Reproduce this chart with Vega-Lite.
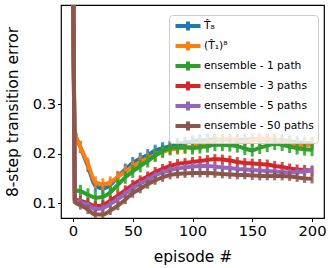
{
  "$schema": "https://vega.github.io/schema/vega-lite/v6.json",
  "width": 263,
  "height": 213,
  "autosize": {"type": "none"},
  "padding": {"left": 61, "top": 5, "right": 8, "bottom": 50},
  "background": "white",
  "config": {
    "font": "DejaVu Sans",
    "view": {"stroke": "#000000", "strokeWidth": 1.2},
    "axis": {
      "grid": false,
      "domain": false,
      "tickColor": "#000000",
      "tickSize": 3.5,
      "tickWidth": 1,
      "labelColor": "#000000",
      "labelFontSize": 14.7,
      "labelPadding": 2,
      "titleColor": "#000000",
      "titleFontSize": 15.5,
      "titleFontWeight": "normal"
    }
  },
  "datasets": {
    "d": [
      {"ep": 0, "s": "T\u0302\u2088", "v": 0.6, "e": 0},
      {"ep": 1.5, "s": "T\u0302\u2088", "v": 0.245, "e": 0},
      {"ep": 6.25, "s": "T\u0302\u2088", "v": 0.213, "e": 0.012},
      {"ep": 12.5, "s": "T\u0302\u2088", "v": 0.175, "e": 0.012},
      {"ep": 18.75, "s": "T\u0302\u2088", "v": 0.135, "e": 0.012},
      {"ep": 25, "s": "T\u0302\u2088", "v": 0.13, "e": 0.012},
      {"ep": 31.25, "s": "T\u0302\u2088", "v": 0.137, "e": 0.012},
      {"ep": 37.5, "s": "T\u0302\u2088", "v": 0.153, "e": 0.012},
      {"ep": 43.75, "s": "T\u0302\u2088", "v": 0.168, "e": 0.012},
      {"ep": 50, "s": "T\u0302\u2088", "v": 0.181, "e": 0.012},
      {"ep": 56.25, "s": "T\u0302\u2088", "v": 0.19, "e": 0.012},
      {"ep": 62.5, "s": "T\u0302\u2088", "v": 0.197, "e": 0.012},
      {"ep": 68.75, "s": "T\u0302\u2088", "v": 0.206, "e": 0.012},
      {"ep": 75, "s": "T\u0302\u2088", "v": 0.211, "e": 0.012},
      {"ep": 81.25, "s": "T\u0302\u2088", "v": 0.215, "e": 0.012},
      {"ep": 87.5, "s": "T\u0302\u2088", "v": 0.219, "e": 0.012},
      {"ep": 93.75, "s": "T\u0302\u2088", "v": 0.222, "e": 0.012},
      {"ep": 100, "s": "T\u0302\u2088", "v": 0.225, "e": 0.012},
      {"ep": 106.25, "s": "T\u0302\u2088", "v": 0.227, "e": 0.012},
      {"ep": 112.5, "s": "T\u0302\u2088", "v": 0.228, "e": 0.012},
      {"ep": 118.75, "s": "T\u0302\u2088", "v": 0.229, "e": 0.012},
      {"ep": 125, "s": "T\u0302\u2088", "v": 0.228, "e": 0.012},
      {"ep": 131.25, "s": "T\u0302\u2088", "v": 0.228, "e": 0.012},
      {"ep": 137.5, "s": "T\u0302\u2088", "v": 0.228, "e": 0.012},
      {"ep": 143.75, "s": "T\u0302\u2088", "v": 0.228, "e": 0.012},
      {"ep": 150, "s": "T\u0302\u2088", "v": 0.229, "e": 0.012},
      {"ep": 156.25, "s": "T\u0302\u2088", "v": 0.228, "e": 0.012},
      {"ep": 162.5, "s": "T\u0302\u2088", "v": 0.228, "e": 0.012},
      {"ep": 168.75, "s": "T\u0302\u2088", "v": 0.228, "e": 0.012},
      {"ep": 175, "s": "T\u0302\u2088", "v": 0.227, "e": 0.012},
      {"ep": 181.25, "s": "T\u0302\u2088", "v": 0.225, "e": 0.012},
      {"ep": 187.5, "s": "T\u0302\u2088", "v": 0.223, "e": 0.012},
      {"ep": 193.75, "s": "T\u0302\u2088", "v": 0.222, "e": 0.012},
      {"ep": 200, "s": "T\u0302\u2088", "v": 0.221, "e": 0.012},

      {"ep": 0, "s": "(T\u0302\u2081)\u2078", "v": 0.6, "e": 0},
      {"ep": 1.5, "s": "(T\u0302\u2081)\u2078", "v": 0.245, "e": 0},
      {"ep": 6.25, "s": "(T\u0302\u2081)\u2078", "v": 0.214, "e": 0.012},
      {"ep": 12.5, "s": "(T\u0302\u2081)\u2078", "v": 0.18, "e": 0.012},
      {"ep": 18.75, "s": "(T\u0302\u2081)\u2078", "v": 0.142, "e": 0.012},
      {"ep": 25, "s": "(T\u0302\u2081)\u2078", "v": 0.138, "e": 0.012},
      {"ep": 31.25, "s": "(T\u0302\u2081)\u2078", "v": 0.142, "e": 0.012},
      {"ep": 37.5, "s": "(T\u0302\u2081)\u2078", "v": 0.153, "e": 0.012},
      {"ep": 43.75, "s": "(T\u0302\u2081)\u2078", "v": 0.163, "e": 0.012},
      {"ep": 50, "s": "(T\u0302\u2081)\u2078", "v": 0.174, "e": 0.012},
      {"ep": 56.25, "s": "(T\u0302\u2081)\u2078", "v": 0.183, "e": 0.012},
      {"ep": 62.5, "s": "(T\u0302\u2081)\u2078", "v": 0.19, "e": 0.012},
      {"ep": 68.75, "s": "(T\u0302\u2081)\u2078", "v": 0.197, "e": 0.012},
      {"ep": 75, "s": "(T\u0302\u2081)\u2078", "v": 0.203, "e": 0.012},
      {"ep": 81.25, "s": "(T\u0302\u2081)\u2078", "v": 0.208, "e": 0.012},
      {"ep": 87.5, "s": "(T\u0302\u2081)\u2078", "v": 0.21, "e": 0.012},
      {"ep": 93.75, "s": "(T\u0302\u2081)\u2078", "v": 0.212, "e": 0.012},
      {"ep": 100, "s": "(T\u0302\u2081)\u2078", "v": 0.214, "e": 0.012},
      {"ep": 106.25, "s": "(T\u0302\u2081)\u2078", "v": 0.218, "e": 0.012},
      {"ep": 112.5, "s": "(T\u0302\u2081)\u2078", "v": 0.222, "e": 0.012},
      {"ep": 118.75, "s": "(T\u0302\u2081)\u2078", "v": 0.226, "e": 0.012},
      {"ep": 125, "s": "(T\u0302\u2081)\u2078", "v": 0.228, "e": 0.012},
      {"ep": 131.25, "s": "(T\u0302\u2081)\u2078", "v": 0.228, "e": 0.012},
      {"ep": 137.5, "s": "(T\u0302\u2081)\u2078", "v": 0.225, "e": 0.012},
      {"ep": 143.75, "s": "(T\u0302\u2081)\u2078", "v": 0.223, "e": 0.012},
      {"ep": 150, "s": "(T\u0302\u2081)\u2078", "v": 0.227, "e": 0.012},
      {"ep": 156.25, "s": "(T\u0302\u2081)\u2078", "v": 0.229, "e": 0.012},
      {"ep": 162.5, "s": "(T\u0302\u2081)\u2078", "v": 0.229, "e": 0.012},
      {"ep": 168.75, "s": "(T\u0302\u2081)\u2078", "v": 0.228, "e": 0.012},
      {"ep": 175, "s": "(T\u0302\u2081)\u2078", "v": 0.225, "e": 0.012},
      {"ep": 181.25, "s": "(T\u0302\u2081)\u2078", "v": 0.221, "e": 0.012},
      {"ep": 187.5, "s": "(T\u0302\u2081)\u2078", "v": 0.218, "e": 0.012},
      {"ep": 193.75, "s": "(T\u0302\u2081)\u2078", "v": 0.217, "e": 0.012},
      {"ep": 200, "s": "(T\u0302\u2081)\u2078", "v": 0.219, "e": 0.012},

      {"ep": 0, "s": "ensemble - 1 path", "v": 0.6, "e": 0},
      {"ep": 1.5, "s": "ensemble - 1 path", "v": 0.127, "e": 0},
      {"ep": 6.25, "s": "ensemble - 1 path", "v": 0.124, "e": 0.013},
      {"ep": 12.5, "s": "ensemble - 1 path", "v": 0.117, "e": 0.013},
      {"ep": 18.75, "s": "ensemble - 1 path", "v": 0.111, "e": 0.013},
      {"ep": 25, "s": "ensemble - 1 path", "v": 0.113, "e": 0.013},
      {"ep": 31.25, "s": "ensemble - 1 path", "v": 0.122, "e": 0.013},
      {"ep": 37.5, "s": "ensemble - 1 path", "v": 0.137, "e": 0.013},
      {"ep": 43.75, "s": "ensemble - 1 path", "v": 0.152, "e": 0.013},
      {"ep": 50, "s": "ensemble - 1 path", "v": 0.164, "e": 0.013},
      {"ep": 56.25, "s": "ensemble - 1 path", "v": 0.175, "e": 0.013},
      {"ep": 62.5, "s": "ensemble - 1 path", "v": 0.185, "e": 0.013},
      {"ep": 68.75, "s": "ensemble - 1 path", "v": 0.196, "e": 0.013},
      {"ep": 75, "s": "ensemble - 1 path", "v": 0.205, "e": 0.013},
      {"ep": 81.25, "s": "ensemble - 1 path", "v": 0.211, "e": 0.013},
      {"ep": 87.5, "s": "ensemble - 1 path", "v": 0.213, "e": 0.013},
      {"ep": 93.75, "s": "ensemble - 1 path", "v": 0.213, "e": 0.013},
      {"ep": 100, "s": "ensemble - 1 path", "v": 0.211, "e": 0.013},
      {"ep": 106.25, "s": "ensemble - 1 path", "v": 0.213, "e": 0.013},
      {"ep": 112.5, "s": "ensemble - 1 path", "v": 0.215, "e": 0.013},
      {"ep": 118.75, "s": "ensemble - 1 path", "v": 0.218, "e": 0.013},
      {"ep": 125, "s": "ensemble - 1 path", "v": 0.218, "e": 0.013},
      {"ep": 131.25, "s": "ensemble - 1 path", "v": 0.217, "e": 0.013},
      {"ep": 137.5, "s": "ensemble - 1 path", "v": 0.215, "e": 0.013},
      {"ep": 143.75, "s": "ensemble - 1 path", "v": 0.21, "e": 0.013},
      {"ep": 150, "s": "ensemble - 1 path", "v": 0.207, "e": 0.013},
      {"ep": 156.25, "s": "ensemble - 1 path", "v": 0.212, "e": 0.013},
      {"ep": 162.5, "s": "ensemble - 1 path", "v": 0.216, "e": 0.013},
      {"ep": 168.75, "s": "ensemble - 1 path", "v": 0.22, "e": 0.013},
      {"ep": 175, "s": "ensemble - 1 path", "v": 0.218, "e": 0.013},
      {"ep": 181.25, "s": "ensemble - 1 path", "v": 0.214, "e": 0.013},
      {"ep": 187.5, "s": "ensemble - 1 path", "v": 0.211, "e": 0.013},
      {"ep": 193.75, "s": "ensemble - 1 path", "v": 0.209, "e": 0.013},
      {"ep": 200, "s": "ensemble - 1 path", "v": 0.208, "e": 0.013},

      {"ep": 0, "s": "ensemble - 3 paths", "v": 0.6, "e": 0},
      {"ep": 1.5, "s": "ensemble - 3 paths", "v": 0.108, "e": 0},
      {"ep": 6.25, "s": "ensemble - 3 paths", "v": 0.105, "e": 0.01},
      {"ep": 12.5, "s": "ensemble - 3 paths", "v": 0.1, "e": 0.01},
      {"ep": 18.75, "s": "ensemble - 3 paths", "v": 0.094, "e": 0.01},
      {"ep": 25, "s": "ensemble - 3 paths", "v": 0.096, "e": 0.01},
      {"ep": 31.25, "s": "ensemble - 3 paths", "v": 0.105, "e": 0.01},
      {"ep": 37.5, "s": "ensemble - 3 paths", "v": 0.115, "e": 0.01},
      {"ep": 43.75, "s": "ensemble - 3 paths", "v": 0.126, "e": 0.01},
      {"ep": 50, "s": "ensemble - 3 paths", "v": 0.137, "e": 0.01},
      {"ep": 56.25, "s": "ensemble - 3 paths", "v": 0.146, "e": 0.01},
      {"ep": 62.5, "s": "ensemble - 3 paths", "v": 0.154, "e": 0.01},
      {"ep": 68.75, "s": "ensemble - 3 paths", "v": 0.163, "e": 0.01},
      {"ep": 75, "s": "ensemble - 3 paths", "v": 0.169, "e": 0.01},
      {"ep": 81.25, "s": "ensemble - 3 paths", "v": 0.175, "e": 0.01},
      {"ep": 87.5, "s": "ensemble - 3 paths", "v": 0.179, "e": 0.01},
      {"ep": 93.75, "s": "ensemble - 3 paths", "v": 0.181, "e": 0.01},
      {"ep": 100, "s": "ensemble - 3 paths", "v": 0.183, "e": 0.01},
      {"ep": 106.25, "s": "ensemble - 3 paths", "v": 0.185, "e": 0.01},
      {"ep": 112.5, "s": "ensemble - 3 paths", "v": 0.187, "e": 0.01},
      {"ep": 118.75, "s": "ensemble - 3 paths", "v": 0.189, "e": 0.01},
      {"ep": 125, "s": "ensemble - 3 paths", "v": 0.188, "e": 0.01},
      {"ep": 131.25, "s": "ensemble - 3 paths", "v": 0.186, "e": 0.01},
      {"ep": 137.5, "s": "ensemble - 3 paths", "v": 0.183, "e": 0.01},
      {"ep": 143.75, "s": "ensemble - 3 paths", "v": 0.181, "e": 0.01},
      {"ep": 150, "s": "ensemble - 3 paths", "v": 0.18, "e": 0.01},
      {"ep": 156.25, "s": "ensemble - 3 paths", "v": 0.179, "e": 0.01},
      {"ep": 162.5, "s": "ensemble - 3 paths", "v": 0.178, "e": 0.01},
      {"ep": 168.75, "s": "ensemble - 3 paths", "v": 0.175, "e": 0.01},
      {"ep": 175, "s": "ensemble - 3 paths", "v": 0.173, "e": 0.01},
      {"ep": 181.25, "s": "ensemble - 3 paths", "v": 0.17, "e": 0.01},
      {"ep": 187.5, "s": "ensemble - 3 paths", "v": 0.168, "e": 0.01},
      {"ep": 193.75, "s": "ensemble - 3 paths", "v": 0.167, "e": 0.01},
      {"ep": 200, "s": "ensemble - 3 paths", "v": 0.166, "e": 0.01},

      {"ep": 0, "s": "ensemble - 5 paths", "v": 0.6, "e": 0},
      {"ep": 1.5, "s": "ensemble - 5 paths", "v": 0.106, "e": 0},
      {"ep": 6.25, "s": "ensemble - 5 paths", "v": 0.102, "e": 0.007},
      {"ep": 12.5, "s": "ensemble - 5 paths", "v": 0.096, "e": 0.007},
      {"ep": 18.75, "s": "ensemble - 5 paths", "v": 0.088, "e": 0.007},
      {"ep": 25, "s": "ensemble - 5 paths", "v": 0.09, "e": 0.007},
      {"ep": 31.25, "s": "ensemble - 5 paths", "v": 0.098, "e": 0.007},
      {"ep": 37.5, "s": "ensemble - 5 paths", "v": 0.108, "e": 0.007},
      {"ep": 43.75, "s": "ensemble - 5 paths", "v": 0.119, "e": 0.007},
      {"ep": 50, "s": "ensemble - 5 paths", "v": 0.13, "e": 0.007},
      {"ep": 56.25, "s": "ensemble - 5 paths", "v": 0.139, "e": 0.007},
      {"ep": 62.5, "s": "ensemble - 5 paths", "v": 0.147, "e": 0.007},
      {"ep": 68.75, "s": "ensemble - 5 paths", "v": 0.156, "e": 0.007},
      {"ep": 75, "s": "ensemble - 5 paths", "v": 0.162, "e": 0.007},
      {"ep": 81.25, "s": "ensemble - 5 paths", "v": 0.167, "e": 0.007},
      {"ep": 87.5, "s": "ensemble - 5 paths", "v": 0.17, "e": 0.007},
      {"ep": 93.75, "s": "ensemble - 5 paths", "v": 0.172, "e": 0.007},
      {"ep": 100, "s": "ensemble - 5 paths", "v": 0.174, "e": 0.007},
      {"ep": 106.25, "s": "ensemble - 5 paths", "v": 0.175, "e": 0.007},
      {"ep": 112.5, "s": "ensemble - 5 paths", "v": 0.175, "e": 0.007},
      {"ep": 118.75, "s": "ensemble - 5 paths", "v": 0.174, "e": 0.007},
      {"ep": 125, "s": "ensemble - 5 paths", "v": 0.172, "e": 0.007},
      {"ep": 131.25, "s": "ensemble - 5 paths", "v": 0.171, "e": 0.007},
      {"ep": 137.5, "s": "ensemble - 5 paths", "v": 0.169, "e": 0.007},
      {"ep": 143.75, "s": "ensemble - 5 paths", "v": 0.168, "e": 0.007},
      {"ep": 150, "s": "ensemble - 5 paths", "v": 0.167, "e": 0.007},
      {"ep": 156.25, "s": "ensemble - 5 paths", "v": 0.166, "e": 0.007},
      {"ep": 162.5, "s": "ensemble - 5 paths", "v": 0.165, "e": 0.007},
      {"ep": 168.75, "s": "ensemble - 5 paths", "v": 0.164, "e": 0.007},
      {"ep": 175, "s": "ensemble - 5 paths", "v": 0.163, "e": 0.007},
      {"ep": 181.25, "s": "ensemble - 5 paths", "v": 0.162, "e": 0.007},
      {"ep": 187.5, "s": "ensemble - 5 paths", "v": 0.163, "e": 0.007},
      {"ep": 193.75, "s": "ensemble - 5 paths", "v": 0.164, "e": 0.007},
      {"ep": 200, "s": "ensemble - 5 paths", "v": 0.166, "e": 0.007},

      {"ep": 0, "s": "ensemble - 50 paths", "v": 0.6, "e": 0},
      {"ep": 1.5, "s": "ensemble - 50 paths", "v": 0.102, "e": 0},
      {"ep": 6.25, "s": "ensemble - 50 paths", "v": 0.096, "e": 0.009},
      {"ep": 12.5, "s": "ensemble - 50 paths", "v": 0.087, "e": 0.009},
      {"ep": 18.75, "s": "ensemble - 50 paths", "v": 0.077, "e": 0.009},
      {"ep": 25, "s": "ensemble - 50 paths", "v": 0.077, "e": 0.009},
      {"ep": 31.25, "s": "ensemble - 50 paths", "v": 0.085, "e": 0.009},
      {"ep": 37.5, "s": "ensemble - 50 paths", "v": 0.095, "e": 0.009},
      {"ep": 43.75, "s": "ensemble - 50 paths", "v": 0.107, "e": 0.009},
      {"ep": 50, "s": "ensemble - 50 paths", "v": 0.12, "e": 0.009},
      {"ep": 56.25, "s": "ensemble - 50 paths", "v": 0.129, "e": 0.009},
      {"ep": 62.5, "s": "ensemble - 50 paths", "v": 0.138, "e": 0.009},
      {"ep": 68.75, "s": "ensemble - 50 paths", "v": 0.146, "e": 0.009},
      {"ep": 75, "s": "ensemble - 50 paths", "v": 0.152, "e": 0.009},
      {"ep": 81.25, "s": "ensemble - 50 paths", "v": 0.157, "e": 0.009},
      {"ep": 87.5, "s": "ensemble - 50 paths", "v": 0.159, "e": 0.009},
      {"ep": 93.75, "s": "ensemble - 50 paths", "v": 0.16, "e": 0.009},
      {"ep": 100, "s": "ensemble - 50 paths", "v": 0.161, "e": 0.009},
      {"ep": 106.25, "s": "ensemble - 50 paths", "v": 0.161, "e": 0.009},
      {"ep": 112.5, "s": "ensemble - 50 paths", "v": 0.161, "e": 0.009},
      {"ep": 118.75, "s": "ensemble - 50 paths", "v": 0.16, "e": 0.009},
      {"ep": 125, "s": "ensemble - 50 paths", "v": 0.159, "e": 0.009},
      {"ep": 131.25, "s": "ensemble - 50 paths", "v": 0.158, "e": 0.009},
      {"ep": 137.5, "s": "ensemble - 50 paths", "v": 0.157, "e": 0.009},
      {"ep": 143.75, "s": "ensemble - 50 paths", "v": 0.157, "e": 0.009},
      {"ep": 150, "s": "ensemble - 50 paths", "v": 0.156, "e": 0.009},
      {"ep": 156.25, "s": "ensemble - 50 paths", "v": 0.155, "e": 0.009},
      {"ep": 162.5, "s": "ensemble - 50 paths", "v": 0.155, "e": 0.009},
      {"ep": 168.75, "s": "ensemble - 50 paths", "v": 0.155, "e": 0.009},
      {"ep": 175, "s": "ensemble - 50 paths", "v": 0.155, "e": 0.009},
      {"ep": 181.25, "s": "ensemble - 50 paths", "v": 0.154, "e": 0.009},
      {"ep": 187.5, "s": "ensemble - 50 paths", "v": 0.152, "e": 0.009},
      {"ep": 193.75, "s": "ensemble - 50 paths", "v": 0.15, "e": 0.009},
      {"ep": 200, "s": "ensemble - 50 paths", "v": 0.149, "e": 0.009}
    ]
  },
  "data": {"name": "d"},
  "encoding": {
    "x": {
      "field": "ep",
      "type": "quantitative",
      "scale": {"domain": [-10, 210], "nice": false, "zero": false},
      "axis": {"values": [0, 50, 100, 150, 200], "title": "episode #", "titlePadding": 11}
    },
    "y": {
      "field": "v",
      "type": "quantitative",
      "scale": {"domain": [0.07, 0.5], "nice": false, "zero": false},
      "axis": {"values": [0.1, 0.2, 0.3], "format": ".1f", "title": "8-step transition error", "titlePadding": 12}
    },
    "color": {
      "field": "s",
      "type": "nominal",
      "scale": {
        "domain": ["T\u0302\u2088", "(T\u0302\u2081)\u2078", "ensemble - 1 path", "ensemble - 3 paths", "ensemble - 5 paths", "ensemble - 50 paths"],
        "range": ["#1f77b4", "#ff7f0e", "#2ca02c", "#d62728", "#9467bd", "#8c564b"]
      },
      "legend": {
        "title": null,
        "orient": "none",
        "legendX": 108,
        "legendY": 10,
        "padding": 4,
        "fillColor": "rgba(255,255,255,0.8)",
        "strokeColor": "#cccccc",
        "cornerRadius": 3,
        "labelFontSize": 10.7,
        "labelColor": "#000000",
        "labelOffset": 9,
        "rowPadding": -13,
        "symbolType": "M-2.5,0H2.5M0,-0.9V0.9",
        "symbolSize": 100,
        "symbolOffset": 8,
        "symbolStrokeWidth": 4,
        "symbolFillColor": "transparent",
        "symbolOpacity": 1
      }
    }
  },
  "layer": [
    {"transform": [{"filter": {"field": "s", "equal": "T\u0302\u2088"}}], "layer": [
      {"mark": {"type": "line", "strokeWidth": 4, "interpolate": "monotone", "clip": true}},
      {"mark": {"type": "errorbar", "thickness": 3, "opacity": 0.85, "clip": true}, "encoding": {"yError": {"field": "e"}, "color": {"field": "s", "type": "nominal", "legend": null}}}
    ]},
    {"transform": [{"filter": {"field": "s", "equal": "(T\u0302\u2081)\u2078"}}], "layer": [
      {"mark": {"type": "line", "strokeWidth": 4, "interpolate": "monotone", "clip": true}},
      {"mark": {"type": "errorbar", "thickness": 3, "opacity": 0.85, "clip": true}, "encoding": {"yError": {"field": "e"}, "color": {"field": "s", "type": "nominal", "legend": null}}}
    ]},
    {"transform": [{"filter": {"field": "s", "equal": "ensemble - 1 path"}}], "layer": [
      {"mark": {"type": "line", "strokeWidth": 4, "interpolate": "monotone", "clip": true}},
      {"mark": {"type": "errorbar", "thickness": 3, "opacity": 0.85, "clip": true}, "encoding": {"yError": {"field": "e"}, "color": {"field": "s", "type": "nominal", "legend": null}}}
    ]},
    {"transform": [{"filter": {"field": "s", "equal": "ensemble - 3 paths"}}], "layer": [
      {"mark": {"type": "line", "strokeWidth": 4, "interpolate": "monotone", "clip": true}},
      {"mark": {"type": "errorbar", "thickness": 3, "opacity": 0.85, "clip": true}, "encoding": {"yError": {"field": "e"}, "color": {"field": "s", "type": "nominal", "legend": null}}}
    ]},
    {"transform": [{"filter": {"field": "s", "equal": "ensemble - 5 paths"}}], "layer": [
      {"mark": {"type": "line", "strokeWidth": 4, "interpolate": "monotone", "clip": true}},
      {"mark": {"type": "errorbar", "thickness": 3, "opacity": 0.85, "clip": true}, "encoding": {"yError": {"field": "e"}, "color": {"field": "s", "type": "nominal", "legend": null}}}
    ]},
    {"transform": [{"filter": {"field": "s", "equal": "ensemble - 50 paths"}}], "layer": [
      {"mark": {"type": "line", "strokeWidth": 4, "interpolate": "monotone", "clip": true}},
      {"mark": {"type": "errorbar", "thickness": 3, "opacity": 0.85, "clip": true}, "encoding": {"yError": {"field": "e"}, "color": {"field": "s", "type": "nominal", "legend": null}}}
    ]}
  ]
}
